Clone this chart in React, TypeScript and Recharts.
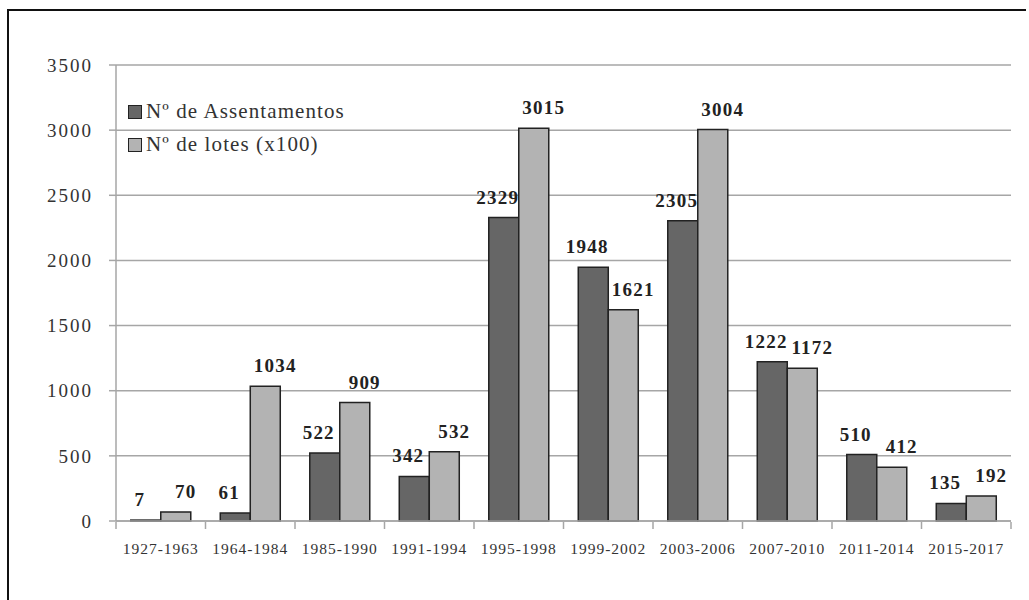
import React from 'react';
import { BarChart, Bar, XAxis, YAxis, CartesianGrid, Legend, LabelList } from 'recharts';

const categories = ['1927-1963', '1964-1984', '1985-1990', '1991-1994', '1995-1998', '1999-2002', '2003-2006', '2007-2010', '2011-2014', '2015-2017'];
const assentamentos = [7, 61, 522, 342, 2329, 1948, 2305, 1222, 510, 135];
const lotes = [70, 1034, 909, 532, 3015, 1621, 3004, 1172, 412, 192];
const yTicks = [0, 500, 1000, 1500, 2000, 2500, 3000, 3500];
const seriesNames = ['Nº de Assentamentos', 'Nº de lotes (x100)'];

const data = categories.map((c, i) => ({ cat: c, a: assentamentos[i], l: lotes[i] }));

const FONT = '"Liberation Serif", "Times New Roman", serif';
const DARK = '#666666';
const LIGHT = '#b3b3b3';
const PLOT_W = 895;
const BAND = PLOT_W / categories.length;

const XTick = (props: any) => {
  const { x, y, payload, index } = props;
  const left = x - BAND / 2;
  const right = x + BAND / 2;
  return (
    <g>
      <line x1={left} y1={y - 7} x2={left} y2={y} stroke="#a6a6a6" strokeWidth={1.5} />
      {index === categories.length - 1 && (
        <line x1={right} y1={y - 7} x2={right} y2={y} stroke="#a6a6a6" strokeWidth={1.5} />
      )}
      <text x={x} y={y + 25} textAnchor="middle" fontFamily={FONT} fontSize={15.5} fill="#333" style={{ letterSpacing: '1px' }}>
        {payload.value}
      </text>
    </g>
  );
};

const makeLabel = (shift: number) => (props: any) => {
  const { x, y, width, value } = props;
  return (
    <text x={x + width / 2 + shift} y={y - 14} textAnchor="middle" fontFamily={FONT} fontWeight="bold" fontSize={19} fill="#222" style={{ letterSpacing: '1.2px' }}>
      {value}
    </text>
  );
};

const LegendContent = () => (
  <div style={{ fontFamily: FONT, fontSize: 21, color: '#333', letterSpacing: '1.1px', textAlign: 'left' }}>
    {[DARK, LIGHT].map((col, i) => (
      <div key={i} style={{ display: 'flex', alignItems: 'center', height: 33 }}>
        <span style={{ display: 'inline-block', width: 12, height: 12, background: col, border: '1.5px solid #222', marginRight: 4 }} />
        <span>{seriesNames[i]}</span>
      </div>
    ))}
  </div>
);

export default function App() {
  return (
    <div style={{ position: 'absolute', left: 0, top: 0, width: 1029, height: 600, background: '#fff' }}>
      <div style={{ position: 'absolute', left: 7, top: 9, width: 1017, height: 600, borderLeft: '2px solid #111', borderTop: '2px solid #111' }} />
      <div style={{ position: 'absolute', left: 0, top: 0 }}>
        <BarChart width={1029} height={600} data={data} margin={{ top: 65, right: 18, bottom: 49, left: 46 }} barCategoryGap="16.5%" barGap={0}>
          <CartesianGrid vertical={false} stroke="#a6a6a6" strokeWidth={1.5} />
          <XAxis dataKey="cat" height={30} stroke="#a6a6a6" strokeWidth={1.5} tickLine={false} tick={<XTick />} interval={0} />
          <YAxis domain={[0, 3500]} ticks={yTicks} width={70} stroke="#a6a6a6" strokeWidth={1.5} tickSize={7} tickMargin={16}
            tick={{ fontFamily: FONT, fontSize: 19, fill: '#333', style: { letterSpacing: '2px' } } as any} />
          <Legend content={<LegendContent />} layout="vertical" verticalAlign="middle" align="center" wrapperStyle={{ left: 128, top: 95, width: 300 }} />
          <Bar dataKey="a" name={seriesNames[0]} fill={DARK} stroke="#222" strokeWidth={1.5} isAnimationActive={false}>
            <LabelList dataKey="a" content={makeLabel(-6)} />
          </Bar>
          <Bar dataKey="l" name={seriesNames[1]} fill={LIGHT} stroke="#222" strokeWidth={1.5} isAnimationActive={false}>
            <LabelList dataKey="l" content={makeLabel(10)} />
          </Bar>
        </BarChart>
      </div>
    </div>
  );
}
